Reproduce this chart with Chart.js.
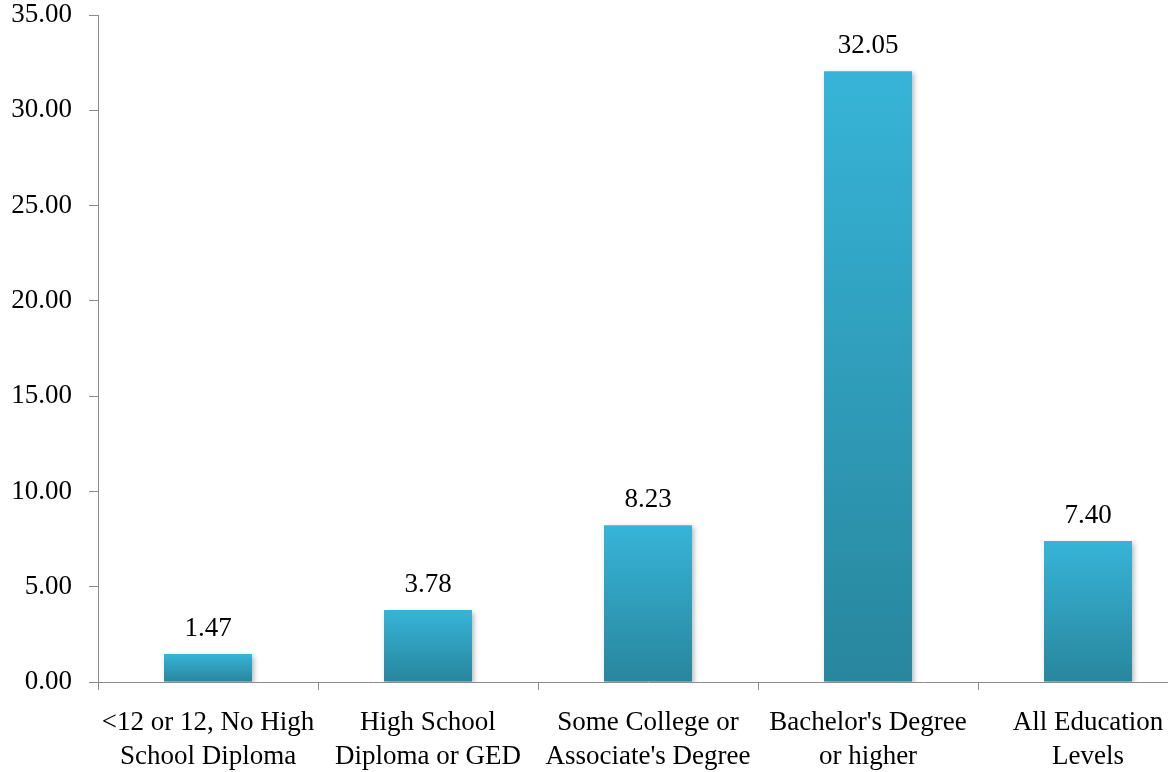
<!DOCTYPE html>
<html>
<head>
<meta charset="utf-8">
<script src="https://cdn.jsdelivr.net/npm/chart.js@4/dist/chart.umd.min.js"></script>
<style>
  html, body { margin: 0; padding: 0; background: #fff; overflow: hidden; }
  #clip { width: 1168px; height: 772px; overflow: hidden; }
  #wrap { width: 1200px; height: 772px; }
</style>
</head>
<body>
<div id="clip"><div id="wrap"><canvas id="c" width="1200" height="772"></canvas></div></div>
<script>
const categories = [
  ["<12 or 12, No High", "School Diploma"],
  ["High School", "Diploma or GED"],
  ["Some College or", "Associate's Degree"],
  ["Bachelor's Degree", "or higher"],
  ["All Education", "Levels"]
];
const values = [1.47, 3.78, 8.23, 32.05, 7.40];
const yMin = 0, yMax = 35, yStep = 5;

const FONT = "'Liberation Serif', 'Times New Roman', serif";

function barGradient(ctx) {
  const chart = ctx.chart;
  const area = chart.chartArea;
  if (!area) return '#34afd2';
  const base = chart.scales.y.getPixelForValue(0);
  const top = chart.scales.y.getPixelForValue(values[ctx.dataIndex]);
  const g = chart.ctx.createLinearGradient(0, top, 0, base);
  g.addColorStop(0, '#37b4d8');
  g.addColorStop(1, '#28869d');
  return g;
}

const valueLabels = {
  id: 'valueLabels',
  beforeDatasetsDraw(chart) {
    const c = chart.ctx;
    c.save();
    c.shadowColor = 'rgba(0,0,0,0.28)';
    c.shadowBlur = 5;
    c.shadowOffsetX = 2;
    c.shadowOffsetY = 2;
  },
  afterDatasetsDraw(chart) {
    const c = chart.ctx;
    c.restore();
    const meta = chart.getDatasetMeta(0);
    c.save();
    c.font = '27px ' + FONT;
    c.fillStyle = '#000';
    c.textAlign = 'center';
    c.textBaseline = 'alphabetic';
    meta.data.forEach((bar, i) => {
      c.fillText(values[i].toFixed(2), bar.x, bar.y - 18);
    });
    c.restore();
  }
};

new Chart(document.getElementById('c'), {
  type: 'bar',
  data: {
    labels: categories,
    datasets: [{
      data: values,
      backgroundColor: barGradient,
      borderWidth: 0,
      barPercentage: 0.4,
      categoryPercentage: 1.0
    }]
  },
  options: {
    responsive: false,
    animation: false,
    layout: { padding: { left: 0, right: 2, top: 15, bottom: 0 } },
    plugins: { legend: { display: false }, tooltip: { enabled: false } },
    scales: {
      x: {
        grid: { display: true, drawOnChartArea: false, drawTicks: true, tickLength: 8, color: '#8c8c8c', offset: true },
        border: { display: true, color: '#8c8c8c', width: 1 },
        ticks: { color: '#000', font: { family: FONT, size: 27, lineHeight: 1.25 }, padding: 16, maxRotation: 0, autoSkip: false },
        afterFit(scale) { scale.height = 90; scale.paddingLeft = 0; scale.paddingRight = 0; }
      },
      y: {
        min: yMin, max: yMax,
        grid: { display: true, drawOnChartArea: false, drawTicks: true, tickLength: 9, color: '#8c8c8c' },
        border: { display: true, color: '#8c8c8c', width: 1 },
        ticks: { stepSize: yStep, color: '#000', font: { family: FONT, size: 27 }, padding: 17,
                 callback: v => Number(v).toFixed(2) },
        afterFit(scale) { scale.width = 98; scale.paddingTop = 0; scale.paddingBottom = 0; }
      }
    }
  },
  plugins: [valueLabels]
});
</script>
</body>
</html>
